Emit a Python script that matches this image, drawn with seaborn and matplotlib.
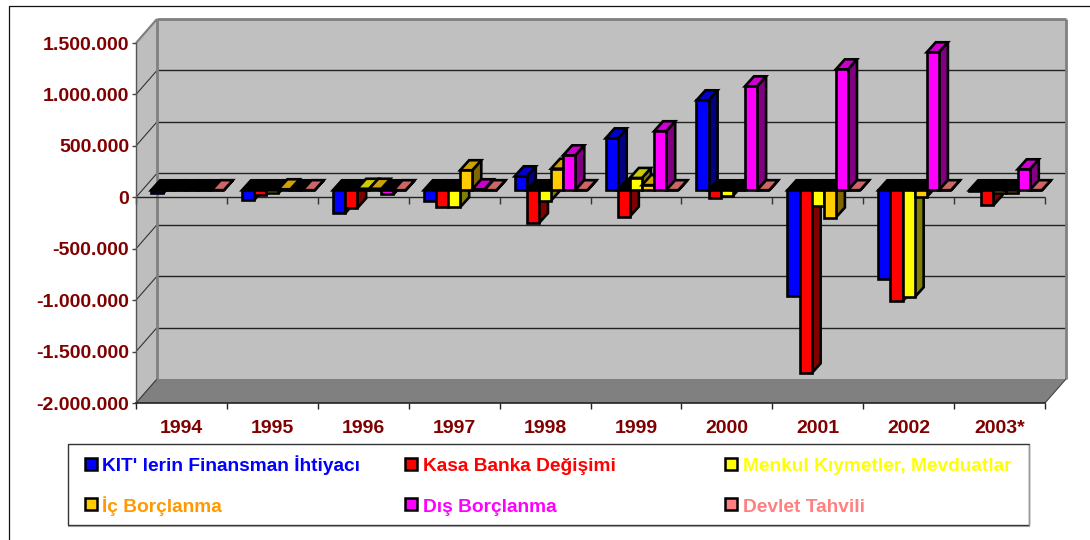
import numpy as np
import pandas as pd
import seaborn as sns
import matplotlib
matplotlib.use('Agg')
import matplotlib.pyplot as plt
from matplotlib.patches import Polygon, Rectangle
from matplotlib.ticker import FuncFormatter
from matplotlib.transforms import Affine2D, IdentityTransform

# ---------------- veriler ----------------
years = ['1994', '1995', '1996', '1997', '1998', '1999', '2000', '2001', '2002', '2003*']
kit = [-30000, -95000, -225000, -100000, 136000, 505000, 875000, -1030000, -865000, -10000]
kasa = [0, -45000, -175000, -160000, -320000, -255000, -75000, -1780000, -1080000, -145000]
menkul = [0, -30000, 15000, -165000, -100000, 120000, -55000, -155000, -1040000, -30000]
ic = [0, 10000, 15000, 195000, 210000, 50000, 0, -265000, -65000, -25000]
dis = [0, 0, -40000, 10000, 340000, 574000, 1011000, 1176000, 1342000, 204000]
tahvil = [1000, 1000, 1000, 1000, 1000, 1000, 1000, 1000, 1000, 1000]

series = ["KIT' lerin Finansman İhtiyacı", 'Kasa Banka Değişimi', 'Menkul Kıymetler, Mevduatlar',
          'İç Borçlanma', 'Dış Borçlanma', 'Devlet Tahvili']
front_cols = ['#0000FF', '#FF0000', '#FFFF00', '#FFCC00', '#FF00FF', '#FF8080']
top_cols = ['#0000CC', '#CC0000', '#CCCC00', '#CCA300', '#CC00CC', '#CC6666']
side_cols = ['#000080', '#800000', '#808000', '#806600', '#800080', '#804040']
text_cols = ['#0000FF', '#FF0000', '#FFFF00', '#FF9900', '#FF00FF', '#FF8080']
yticks = [-2000000, -1500000, -1000000, -500000, 0, 500000, 1000000, 1500000]

df = pd.DataFrame({'yil': years, series[0]: kit, series[1]: kasa, series[2]: menkul,
                   series[3]: ic, series[4]: dis, series[5]: tahvil})
df = df.melt(id_vars='yil', var_name='seri', value_name='deger')

# ---------------- sayfa ----------------
sns.set_style('white')
plt.rcParams['font.family'] = ['Liberation Sans', 'DejaVu Sans']
plt.rcParams['font.weight'] = 'bold'
W, H = 1090, 540
DARK = '#800000'
BAR_LW = 1.9
fig = plt.figure(figsize=(W / 100, H / 100), dpi=100)
ax = fig.add_axes([136 / W, (H - 403) / H, 909 / W, 360 / H])
ax.patch.set_alpha(0)

sns.barplot(data=df, x='yil', y='deger', hue='seri', order=years, hue_order=series,
            palette=front_cols, width=0.8, gap=0, errorbar=None, legend=False,
            edgecolor='black', linewidth=BAR_LW, saturation=1, ax=ax)
ax.set_xlim(-0.5, 9.5)
ax.set_ylim(-2000000, 1500000)
ax.set_xlabel('')
ax.set_ylabel('')
ax.set_yticks(yticks)
ax.yaxis.set_major_formatter(FuncFormatter(lambda v, p: f'{v:,.0f}'.replace(',', '.')))
ax.set_xticks(np.arange(-0.5, 10), minor=True)
ax.tick_params(axis='x', which='major', length=0, pad=12.5, labelsize=14, labelcolor=DARK)
ax.tick_params(axis='x', which='minor', length=4.5, width=1, color='#222222', bottom=True)
ax.tick_params(axis='y', length=3, width=1, pad=2, labelsize=14, labelcolor=DARK, color='#444444', left=True)
for lab in ax.get_xticklabels() + ax.get_yticklabels():
    lab.set_fontweight('bold')
sns.despine(ax=ax, top=True, right=True)
ax.spines['left'].set_color('#555555')
ax.spines['bottom'].set_color('#222222')
ax.spines['left'].set_linewidth(1)
ax.spines['bottom'].set_linewidth(1.2)

DX, DY = 21, 24  # duvar derinligi
BX, BY = 6, 7    # cubuk on yuzu kaymasi
CX, CY = 9, 10   # cubuk derinligi
px = IdentityTransform()


def poly(pts, z, fc, ec='none', lw=0.0):
    ax.add_patch(Polygon(pts, closed=True, facecolor=fc, edgecolor=ec, linewidth=lw,
                         transform=px, clip_on=False, zorder=z))


def seg(x0, y0, x1, y1, z, c='#222222', lw=0.8):
    ax.plot([x0, x1], [y0, y1], color=c, lw=lw, transform=px, clip_on=False, zorder=z,
            solid_capstyle='butt')


x0, y0, x1, y1 = ax.bbox.extents
poly([(x0 + DX, y0 + DY), (x1 + DX, y0 + DY), (x1 + DX, y1 + DY), (x0 + DX, y1 + DY)], 0.5, '#C0C0C0')
poly([(x0, y0), (x0 + DX, y0 + DY), (x0 + DX, y1 + DY), (x0, y1)], 0.6, '#BEBEBE')
poly([(x0, y0), (x1, y0), (x1 + DX, y0 + DY), (x0 + DX, y0 + DY)], 0.7, '#808080')

for v in yticks:
    yy = ax.transData.transform((0, v))[1]
    seg(x0, yy, x0 + DX, yy + DY, 0.8, c='#333333' if v < 1500000 else '#808080', lw=0.8 if v < 1500000 else 1.6)
    if -2000000 < v < 1500000:
        seg(x0 + DX, yy + DY, x1 + DX, yy + DY, 0.8, lw=1)
# duvar kenarlari
seg(x0 + DX, y0 + DY, x0 + DX, y1 + DY, 0.9, c='#808080', lw=2)
seg(x0 + DX, y1 + DY, x1 + DX, y1 + DY, 0.9, c='#808080', lw=2)
seg(x1 + DX, y0 + DY, x1 + DX, y1 + DY, 0.9, c='#808080', lw=2)
seg(x1, y0, x1 + DX, y0 + DY, 0.9, c='#444444', lw=0.8)

# sifir ekseni
zero = ax.transData.transform((0, 0))[1]
seg(x0, zero, x1, zero, 1, c='#222222', lw=1)
for b in np.arange(-0.5, 10):
    xx = ax.transData.transform((b, 0))[0]
    seg(xx, zero, xx, zero - 7, 1, c='#333333', lw=1)

# 3B cubuklar, soldan saga
order = []
for s, cont in enumerate(ax.containers):
    for c, patch in enumerate(cont.patches):
        order.append((c, s, patch))
z = 10
for c, s, patch in sorted(order, key=lambda t: (t[0], t[1])):
    (ax_l, ay_a) = ax.transData.transform((patch.get_x(), patch.get_y()))
    (ax_r, ay_b) = ax.transData.transform((patch.get_x() + patch.get_width(), patch.get_y() + patch.get_height()))
    l, r = ax_l + BX, ax_r + BX
    base, tip = ay_a + BY, ay_b + BY
    poly([(r, base), (r + CX, base + CY), (r + CX, tip + CY), (r, tip)], z, side_cols[s], 'black', BAR_LW)
    top = max(base, tip)
    val = patch.get_height()
    poly([(l, top), (r, top), (r + CX, top + CY), (l + CX, top + CY)], z + 0.1,
         top_cols[s] if val > 0 else 'black', 'black', BAR_LW)
    patch.set_transform(ax.transData + Affine2D().translate(BX, BY))
    patch.set_clip_on(False)
    patch.set_zorder(z + 0.2)
    z += 1

# ---------------- lejant ----------------
fig.add_artist(Rectangle((67.5 / W, (H - 525) / H), 961 / W, 81 / H, transform=fig.transFigure,
                         facecolor='white', edgecolor='#333333', linewidth=1))
fig.add_artist(plt.Line2D([68 / W, 1029 / W, 1029 / W], [(H - 526) / H, (H - 526) / H, (H - 445) / H],
                          color='#999999', lw=0.8))
mark_x = [85, 405, 725]
text_x = [102, 423, 743]
mark_y = [464, 504]
base_y = [471, 511.5]
for i, name in enumerate(series):
    col, row = i % 3, i // 3
    fig.add_artist(Rectangle((mark_x[col] / W, (H - mark_y[row] - 6) / H), 12 / W, 12 / H, transform=fig.transFigure,
                             facecolor=front_cols[i], edgecolor='black', linewidth=1.8))
    fig.text(text_x[col] / W, (H - base_y[row]) / H, name, color=text_cols[i], fontsize=13.8,
             fontweight='bold', ha='left', va='baseline')

# dis cerceve
fig.add_artist(plt.Line2D([9 / W, 9 / W, 1], [0, (H - 5.5) / H, (H - 5.5) / H], color='#111111', lw=0.9))

fig.savefig('out.png', dpi=100)
